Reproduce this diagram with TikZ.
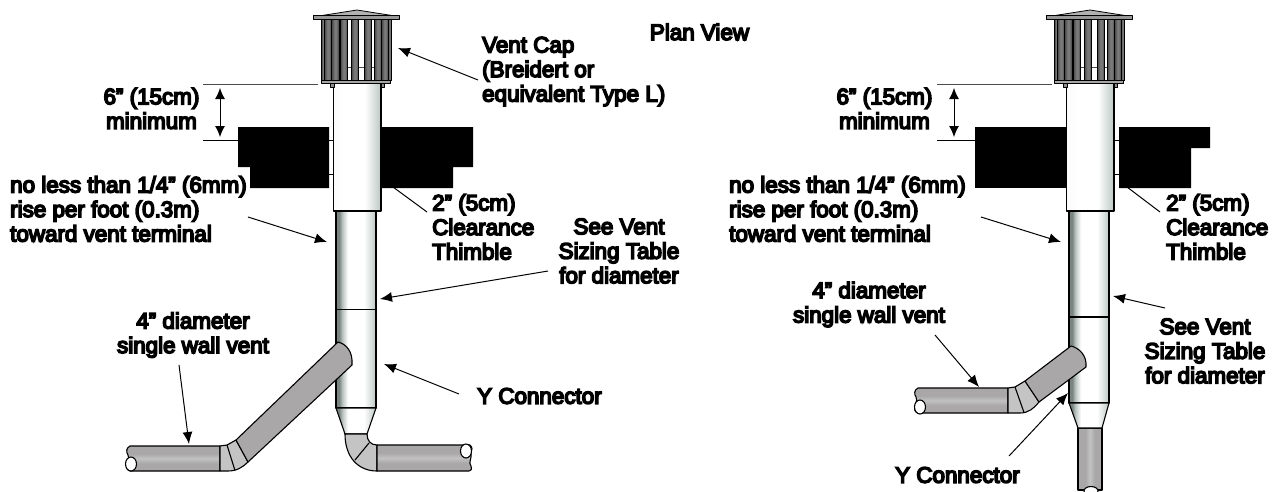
\documentclass[tikz,border=0pt]{standalone}
\usepackage{fontspec}
\setmainfont[FakeBold=7]{Liberation Sans}
\usetikzlibrary{arrows.meta}
\definecolor{tubegray}{HTML}{A9A7A7}
\definecolor{tubelight}{HTML}{C2C2C2}
\definecolor{elbowgray}{HTML}{C4C4C4}
\definecolor{pipeedge}{HTML}{7A8481}
\definecolor{pipesoft}{HTML}{BAC4C1}
\definecolor{pipemid}{HTML}{BECAC6}
\pgfdeclarehorizontalshading{pipeshade}{100bp}{
  color(0bp)=(pipeedge);
  color(25bp)=(pipeedge);
  color(29bp)=(pipeedge);
  color(33bp)=(pipesoft);
  color(40bp)=(white);
  color(60bp)=(white);
  color(68bp)=(pipemid!55);
  color(74bp)=(pipemid);
  color(100bp)=(pipemid)}
\pgfdeclarehorizontalshading{collarshade}{100bp}{
  color(0bp)=(white);
  color(25bp)=(white!92!pipemid);
  color(36bp)=(white);
  color(58bp)=(white);
  color(67bp)=(pipemid!55);
  color(74bp)=(pipemid);
  color(100bp)=(pipemid)}
\pgfdeclarehorizontalshading{finshade}{100bp}{
  color(0bp)=(black!72);
  color(25bp)=(black!72);
  color(45bp)=(black!52);
  color(55bp)=(black!52);
  color(75bp)=(black!74);
  color(100bp)=(black!74)}
\pgfdeclareverticalshading{stubhshade}{100bp}{
  color(0bp)=(tubegray);
  color(40bp)=(tubegray);
  color(50bp)=(tubelight);
  color(60bp)=(tubegray);
  color(100bp)=(tubegray)}
\pgfdeclarehorizontalshading{stubvshade}{100bp}{
  color(0bp)=(tubegray);
  color(40bp)=(tubegray);
  color(50bp)=(tubelight);
  color(60bp)=(tubegray);
  color(100bp)=(tubegray)}
\tikzset{
  outl/.style={draw=black,line width=1.1pt,line join=round},
  fin/.style={draw=black,line width=0.7pt,shading=finshade},
  pipe/.style={outl,shading=pipeshade},
  collar/.style={outl,shading=collarshade},
  tube/.style={outl,fill=tubegray},
  stubhh/.style={outl,shading=stubhshade},
  stubvv/.style={outl,shading=stubvshade},
  elbow/.style={outl,fill=elbowgray},
  hole/.style={draw=black,line width=1.1pt,fill=white},
  blk/.style={fill=black},
  lead/.style={draw=black,line width=1pt},
  dimline/.style={draw=black!70,line width=1pt},
  pointer/.style={draw=black,line width=1pt,-{Latex[length=12pt,width=10pt]}},
  dimarrow/.style={draw=black,line width=1pt,{Latex[length=11pt,width=10pt]}-{Latex[length=11pt,width=10pt]}},
  lbl/.style={font=\fontsize{22.4}{24.5}\selectfont,inner sep=0pt,text=black},
}
\newcommand{\ventcap}{%
  \draw[line width=0.8pt,draw=black!70] (340,67) -- (375,67);
  \foreach \a/\b in {321.7/324.3,388.3/391}{\shade[fin] (\a,19) rectangle (\b,80);}
  \foreach \a/\b in {324.3/331.7,331.7/339,340.3/347.7,351.3/358.7,364.3/371.7,374.3/381.7,381.7/388.3}{\shade[fin] (\a,19) rectangle (\b,80.5);}
  \draw[outl,line width=0.8pt,fill=black!35] (321.5,80.5) rectangle (390.5,83.5);
  \draw[outl,line width=0.8pt,fill=black!45] (330,83.5) rectangle (334,87);
  \draw[outl,line width=0.8pt,fill=black!45] (381,83.5) rectangle (384.5,87);
  \draw[outl,line width=0.8pt,fill=black!30] (322,15.5) -- (357,10) -- (392,15.5) -- cycle;
  \draw[outl,line width=0.8pt,fill=black!40] (313,15.5) rectangle (399,19);
}
\newcommand{\ventcollar}{%
  \shade[collar] (333.5,83.5) rectangle (381,211);
}
\begin{document}
\begin{tikzpicture}[x=1pt,y=-1pt]
\useasboundingbox (0,0) rectangle (1283,491);
\fill[white] (0,0) rectangle (1283,491);

% ---------- LEFT FIGURE ----------
\shade[pipe] (336,211) rectangle (376,309.5);
\shade[pipe] (336,309.5) rectangle (376,408);
\shade[pipe] (336,408) -- (376,408) -- (367,434) -- (345,434) -- cycle;
\draw[elbow] (345,434) .. controls (345,457) and (358,471) .. (377,471) -- (377,445) .. controls (371,445) and (367,441) .. (367,434) -- cycle;
\draw[outl] (355,460) -- (369,443);
\shade[stubhh] (377,445) -- (470,445) .. controls (473,448) and (472,450) .. (471,452) .. controls (472,460) and (468,462) .. (471,466) .. controls (472,468) and (472,470) .. (469,471) -- (377,471) -- cycle;
\draw[hole] (466,451) ellipse (5.5 and 7);
\shade[stubhh] (220,446) -- (130,446) .. controls (126,448) and (126,452) .. (128,455) .. controls (130,460) and (127,460) .. (127,464) .. controls (126,468) and (127,470) .. (130,471) -- (220,471) -- cycle;
\draw[hole] (131,464) ellipse (5.5 and 7);
\draw[elbow] (220,446) -- (227,445) -- (236,440) -- (248,462) .. controls (243,467) and (237,471) .. (228,471) -- (220,471) -- cycle;
\draw[outl] (227,445) -- (235,470.5);
\draw[tube] (236,440) -- (338,342) .. controls (346,344) and (353,351) .. (352,365) -- (248,462) -- cycle;
\ventcollar
\ventcap
\fill[blk] (238,127) -- (329,127) -- (329,188) -- (250,188) -- (250,167) -- (238,167) -- cycle;
\fill[blk] (382,127) -- (473,127) -- (473,167) -- (453,167) -- (453,188) -- (382,188) -- cycle;
\draw[line width=0.6pt] (329,140) -- (333.5,140) (329,174) -- (333.5,174) (381,140) -- (382,140) (381,174) -- (382,174);

\coordinate (l-d1a) at (203,84); \coordinate (l-d1b) at (318,84);
\coordinate (l-d2a) at (203,140); \coordinate (l-d2b) at (238,140);
\coordinate (l-dt) at (220,88); \coordinate (l-db) at (220,137);
\draw[dimline] (l-d1a) -- (l-d1b);
\draw[dimline,draw=black] (l-d2a) -- (l-d2b);
\draw[dimarrow] (l-dt) -- (l-db);

\node[lbl,anchor=center,align=center] (plan) at (699.5,32) {Plan View};
\node[lbl,anchor=west,align=left] (l-cap) at (482,71.5) {Vent Cap\\(Breidert or\\equivalent Type L)};
\node[lbl,anchor=center,align=center] (l-six) at (151.5,108.5) {6” (15cm)\\minimum};
\node[lbl,anchor=west,align=left] (l-rise) at (10,209) {no less than 1/4” (6mm)\\rise per foot (0.3m)\\toward vent terminal};
\node[lbl,anchor=west,align=left] (l-two) at (432,227) {2” (5cm)\\Clearance\\Thimble};
\node[lbl,anchor=center,align=center] (l-see) at (619,251) {See Vent\\Sizing Table\\for diameter};
\node[lbl,anchor=west] (l-y) at (477,396) {Y Connector};
\node[lbl,anchor=center,align=center] (l-four) at (193,335) {4” diameter\\single wall vent};

\coordinate (l-a1) at (478,80); \coordinate (l-a1e) at (398,48);
\coordinate (l-a2) at (427,212); \coordinate (l-a2e) at (393,187);
\coordinate (l-a3) at (248,217); \coordinate (l-a3e) at (327,242);
\coordinate (l-a4) at (548,271); \coordinate (l-a4e) at (380,299);
\coordinate (l-a5) at (459,394); \coordinate (l-a5e) at (384,364);
\coordinate (l-a6) at (179,365); \coordinate (l-a6e) at (189,444);
\draw[pointer] (l-a1) -- (l-a1e);
\draw[lead] (l-a2) -- (l-a2e);
\draw[pointer] (l-a3) -- (l-a3e);
\draw[pointer] (l-a4) -- (l-a4e);
\draw[pointer] (l-a5) -- (l-a5e);
\draw[pointer] (l-a6) -- (l-a6e);

% ---------- RIGHT FIGURE ----------
\shade[stubvv] (1078,428) -- (1102,428) -- (1102,490) -- (1078,490) -- cycle;
\draw[hole] (1091,491) ellipse (7 and 4.5);
\begin{scope}[xshift=733pt]
\shade[pipe] (336,211) rectangle (376,317);
\shade[pipe] (336,317) rectangle (376,403);
\shade[pipe] (336,403) -- (376,403) -- (369,428) -- (345,428) -- cycle;
\end{scope}
\shade[stubhh] (1008,388) -- (918,388) .. controls (914,390) and (914,394) .. (916,397) .. controls (918,402) and (915,402) .. (915,406) .. controls (914,410) and (915,412) .. (918,413) -- (1008,413) -- cycle;
\draw[hole] (920,407) ellipse (5.5 and 7);
\draw[elbow] (1008,388) -- (1015,387) -- (1025,381) -- (1039,402) .. controls (1034,408) and (1029,413) .. (1020,413) -- (1008,413) -- cycle;
\draw[outl] (1015,387) -- (1024,412.5);
\draw[tube] (1025,381) -- (1071,346) .. controls (1079,348) and (1087,355) .. (1086,367) -- (1039,402) -- cycle;
\begin{scope}[xshift=733pt]
\ventcollar
\ventcap
\end{scope}
\fill[blk] (975,127) rectangle (1066,188);
\fill[blk] (1119,127) -- (1210,127) -- (1210,148) -- (1191,148) -- (1191,188) -- (1119,188) -- cycle;
\draw[line width=0.6pt] (1114,140) -- (1119,140) (1114,174) -- (1119,174);

\coordinate (r-d1a) at (937,84); \coordinate (r-d1b) at (1052,84);
\coordinate (r-d2a) at (937,140); \coordinate (r-d2b) at (975,140);
\coordinate (r-dt) at (954,88); \coordinate (r-db) at (954,137);
\draw[dimline] (r-d1a) -- (r-d1b);
\draw[dimline,draw=black] (r-d2a) -- (r-d2b);
\draw[dimarrow] (r-dt) -- (r-db);

\node[lbl,anchor=center,align=center] (r-six) at (884.5,108.5) {6” (15cm)\\minimum};
\node[lbl,anchor=west,align=left] (r-rise) at (729,209) {no less than 1/4” (6mm)\\rise per foot (0.3m)\\toward vent terminal};
\node[lbl,anchor=west,align=left] (r-two) at (1166,227) {2” (5cm)\\Clearance\\Thimble};
\node[lbl,anchor=center,align=center] (r-see) at (1205,351) {See Vent\\Sizing Table\\for diameter};
\node[lbl,anchor=west] (r-y) at (895,475) {Y Connector};
\node[lbl,anchor=center,align=center] (r-four) at (869,304.5) {4” diameter\\single wall vent};

\coordinate (r-a2) at (1160,212); \coordinate (r-a2e) at (1127,187);
\coordinate (r-a3) at (981,217); \coordinate (r-a3e) at (1061,242);
\coordinate (r-a4) at (1165,308); \coordinate (r-a4e) at (1113,296);
\coordinate (r-a5) at (1009,456); \coordinate (r-a5e) at (1068,393);
\coordinate (r-a6) at (935,335); \coordinate (r-a6e) at (979,387);
\draw[lead] (r-a2) -- (r-a2e);
\draw[pointer] (r-a3) -- (r-a3e);
\draw[pointer] (r-a4) -- (r-a4e);
\draw[pointer] (r-a5) -- (r-a5e);
\draw[pointer] (r-a6) -- (r-a6e);
\end{tikzpicture}
\end{document}
